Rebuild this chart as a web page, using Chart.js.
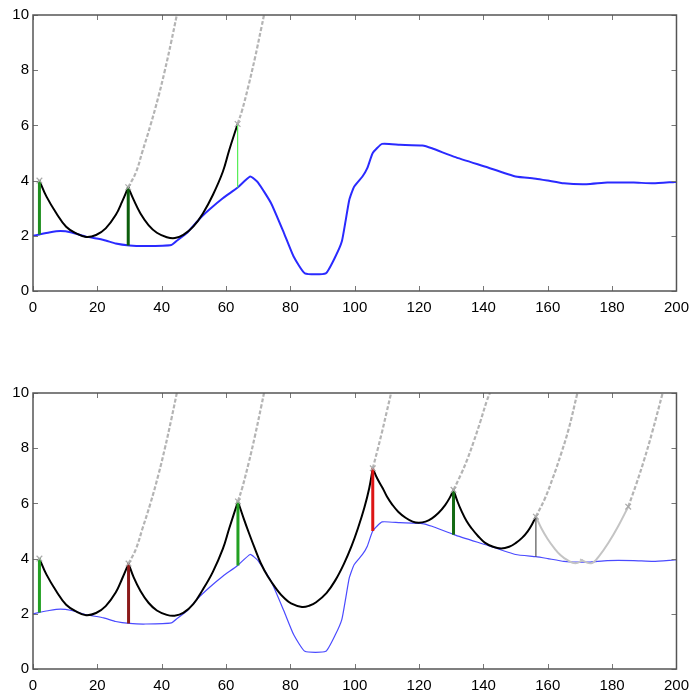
<!DOCTYPE html>
<html>
<head>
<meta charset="utf-8">
<script src="https://cdn.jsdelivr.net/npm/chart.js@4.4.0/dist/chart.umd.min.js"></script>
<style>
  html, body { margin: 0; padding: 0; background: #ffffff; }
  #wrap { position: relative; width: 697px; height: 695px; overflow: hidden; }
  canvas { position: absolute; left: 0; }
  #c1 { top: 0; }
  #c2 { top: 330px; }
</style>
</head>
<body>
<div id="wrap">
  <canvas id="c1" width="697" height="330"></canvas>
  <canvas id="c2" width="697" height="365"></canvas>
</div>
<script>
// ---------- tick labels ----------
const xTicks = [0, 20, 40, 60, 80, 100, 120, 140, 160, 180, 200];
const yTicks = [0, 2, 4, 6, 8, 10];

// ---------- blue signal (same in both panels) ----------
const signalX = [0, 2, 5, 8.5, 12, 16.5, 22, 25.7, 30, 35, 43, 45, 48, 51.8, 55, 59, 63.6, 67.5, 70, 74, 78, 81, 84.5, 91, 94, 96, 97.2, 98.3, 99.8, 102.4, 103.9, 105.6, 108.5, 114, 121, 124, 131, 140.7, 150, 156.3, 160, 165, 172, 178.5, 186.7, 192.8, 199.5, 200];
const signalY = [2.0, 2.05, 2.12, 2.17, 2.12, 1.97, 1.85, 1.72, 1.65, 1.63, 1.67, 1.85, 2.12, 2.62, 2.97, 3.36, 3.75, 4.15, 3.92, 3.18, 2.1, 1.25, 0.64, 0.64, 1.25, 1.8, 2.57, 3.3, 3.78, 4.15, 4.45, 5.0, 5.33, 5.3, 5.27, 5.17, 4.86, 4.5, 4.15, 4.07, 4.0, 3.9, 3.87, 3.93, 3.93, 3.9, 3.95, 3.95];

// ---------- top panel ----------
const topArcAX = [2, 4.2, 7.3, 10.3, 13.4, 16.5, 19.6, 22.6, 25.7, 27.7, 29.6];
const topArcAY = [4.0, 3.42, 2.81, 2.33, 2.09, 1.96, 2.03, 2.27, 2.75, 3.24, 3.76];
const topArcBX = [29.6, 31.3, 33.4, 35.9, 38.5, 41.6, 44.1, 46.7, 49.8, 52.8, 55.9, 59, 61, 63.6];
const topArcBY = [3.76, 3.30, 2.81, 2.39, 2.11, 1.95, 1.92, 2.03, 2.33, 2.81, 3.48, 4.32, 5.11, 6.05];
const topDashAX = [29.6, 32, 34, 36.5, 39, 41, 43, 44.7];
const topDashAY = [3.76, 4.3, 5.05, 6.0, 7.05, 8.0, 9.05, 10];
const topDashBX = [63.6, 65, 67, 69, 71, 71.8];
const topDashBY = [6.05, 6.55, 7.45, 8.45, 9.55, 10];
const topPeakX = [2, 29.6, 63.6];
const topPeakY = [4.0, 3.76, 6.05];
const topStemLow = [2.05, 1.65, 3.75];

// ---------- bottom panel ----------
const botArc1X = [2, 4.2, 7.3, 10.3, 13.4, 16.5, 19.6, 22.6, 25.7, 27.7, 29.7];
const botArc1Y = [4.0, 3.42, 2.81, 2.33, 2.09, 1.95, 2.03, 2.28, 2.77, 3.27, 3.82];
const botArc2X = [29.7, 31.3, 33.4, 35.9, 38.5, 41.6, 44, 46.7, 49.8, 52.8, 55.9, 59, 61, 63.7];
const botArc2Y = [3.82, 3.32, 2.83, 2.4, 2.12, 1.96, 1.93, 2.03, 2.35, 2.88, 3.52, 4.35, 5.1, 6.07];
const botArc3X = [63.7, 65.5, 67.2, 69, 70.8, 73, 75.9, 78, 80.2, 83.6, 86, 88, 91.2, 94, 96.6, 99, 101, 103, 104.5, 105.6];
const botArc3Y = [6.07, 5.45, 4.9, 4.35, 3.83, 3.35, 2.86, 2.58, 2.38, 2.25, 2.3, 2.42, 2.75, 3.22, 3.8, 4.45, 5.1, 5.85, 6.55, 7.27];
const botArc4X = [105.6, 107, 108.7, 110, 111.7, 113.5, 115.8, 118, 119.9, 122, 124, 126, 128.1, 129.5, 130.7];
const botArc4Y = [7.27, 6.9, 6.55, 6.25, 5.95, 5.7, 5.48, 5.34, 5.30, 5.34, 5.46, 5.65, 5.94, 6.2, 6.49];
const botArc5X = [130.7, 132, 133.2, 134.8, 136.3, 138.3, 140.4, 143, 145.5, 148, 150.1, 152, 153.7, 155, 156.3];
const botArc5Y = [6.49, 6.05, 5.72, 5.35, 5.1, 4.82, 4.58, 4.43, 4.37, 4.43, 4.57, 4.75, 4.98, 5.22, 5.52];
const botGray1X = [156.3, 158, 160, 162, 164, 166, 168.6, 171];
const botGray1Y = [5.52, 5.1, 4.7, 4.38, 4.12, 3.95, 3.83, 3.95];
const botGray2X = [170, 173.5, 176, 179, 182, 185];
const botGray2Y = [3.97, 3.83, 4.1, 4.6, 5.2, 5.88];
const botDash1X = [29.7, 32, 34, 36.5, 39, 41, 43, 44.7];
const botDash1Y = [3.82, 4.35, 5.08, 6.0, 7.05, 8.0, 9.05, 10];
const botDash2X = [63.7, 65, 67, 69, 71, 71.8];
const botDash2Y = [6.07, 6.55, 7.45, 8.45, 9.55, 10];
const botDash3X = [105.6, 107, 108.5, 110, 111.3];
const botDash3Y = [7.27, 7.9, 8.6, 9.35, 10];
const botDash4X = [130.7, 133, 135, 137, 139, 141, 142];
const botDash4Y = [6.49, 7.05, 7.6, 8.25, 8.95, 9.7, 10];
const botDash5X = [156.3, 159, 161.5, 164, 166.5, 169.2];
const botDash5Y = [5.52, 6.15, 6.9, 7.75, 8.7, 10];
const botDash6X = [185, 187.5, 190, 192.5, 195.7];
const botDash6Y = [5.88, 6.7, 7.6, 8.6, 10];
const botPeakX = [2, 29.7, 63.7, 105.6, 130.7, 156.3, 185];
const botPeakY = [4.0, 3.82, 6.07, 7.27, 6.49, 5.52, 5.88];
const botStemLow = [2.05, 1.65, 3.75, 5.0, 4.86, 4.07];

// ---------- styles ----------
const topStemColors = ['#1f8f1f', '#0b5e0b', '#55ee55'];
const topStemWidths = [3, 3, 1.2];
const botStemColors = ['#22a022', '#8b1a1a', '#22a022', '#dd1515', '#146a14', '#555555'];
const botStemWidths = [3, 3, 3, 3, 3, 1.2];

function pts(xs, ys) { return xs.map((x, i) => ({ x: x, y: ys[i] })); }

function curve(xs, ys, color, width, order, tension) {
  return { data: pts(xs, ys), borderColor: color, borderWidth: width, pointRadius: 0,
    tension: tension, fill: false, order: order };
}
function dashed(xs, ys) {
  return { data: pts(xs, ys), borderColor: '#b4b4b4', borderWidth: 2.2, borderDash: [4, 2],
    pointRadius: 0, tension: 0.4, fill: false, order: 9 };
}
function stem(x, y0, y1, color, width) {
  return { data: [{ x: x, y: y0 }, { x: x, y: y1 }], borderColor: color, borderWidth: width,
    pointRadius: 0, tension: 0, fill: false, order: 1 };
}
function peaks(xs, ys) {
  return { data: pts(xs, ys), showLine: false, pointStyle: 'crossRot', pointRadius: 4,
    pointBorderColor: '#aaaaaa', pointBorderWidth: 1.2, borderColor: '#aaaaaa', order: 0 };
}

const boxPlugin = {
  id: 'box',
  afterDraw(chart) {
    const ctx = chart.ctx, a = chart.chartArea;
    const xs = chart.scales.x, ys = chart.scales.y;
    ctx.save();
    ctx.strokeStyle = '#777777';
    ctx.lineWidth = 1;
    const L = 5;
    ctx.beginPath();
    xTicks.forEach(v => {
      const p = Math.round(xs.getPixelForValue(v)) + 0.5;
      ctx.moveTo(p, a.bottom); ctx.lineTo(p, a.bottom - L);
      ctx.moveTo(p, a.top); ctx.lineTo(p, a.top + L);
    });
    yTicks.forEach(v => {
      const p = Math.round(ys.getPixelForValue(v)) + 0.5;
      ctx.moveTo(a.left, p); ctx.lineTo(a.left + L, p);
      ctx.moveTo(a.right, p); ctx.lineTo(a.right - L, p);
    });
    ctx.stroke();
    ctx.strokeStyle = '#555555';
    ctx.lineWidth = 1.5;
    ctx.strokeRect(a.left, a.top, a.right - a.left, a.bottom - a.top);
    ctx.restore();
  }
};

const tickFont = { family: "'Liberation Sans Narrow', 'Liberation Sans', Arial, sans-serif", size: 15 };

function makeOptions(padTop, xHeight) {
  return {
    responsive: false,
    animation: false,
    events: [],
    layout: { padding: { left: 0, right: 13, top: padTop, bottom: 0 } },
    plugins: { legend: { display: false }, tooltip: { enabled: false } },
    scales: {
      x: {
        type: 'linear', min: 0, max: 200,
        grid: { display: false, drawTicks: false },
        border: { display: false },
        afterBuildTicks: s => { s.ticks = xTicks.map(v => ({ value: v })); },
        afterFit: s => { s.height = xHeight; },
        ticks: { color: '#000000', font: tickFont, padding: 8, maxRotation: 0, autoSkip: false }
      },
      y: {
        type: 'linear', min: 0, max: 10,
        grid: { display: false, drawTicks: false },
        border: { display: false },
        afterBuildTicks: s => { s.ticks = yTicks.map(v => ({ value: v })); },
        afterFit: s => { s.width = 33; },
        ticks: { color: '#000000', font: tickFont, padding: 4 }
      }
    }
  };
}

// top panel datasets
const topSets = [
  curve(signalX, signalY, '#2a2aff', 2, 8, 0.15),
  curve(topArcAX, topArcAY, '#000000', 2, 5, 0.4),
  curve(topArcBX, topArcBY, '#000000', 2, 5, 0.4),
  dashed(topDashAX, topDashAY),
  dashed(topDashBX, topDashBY),
  peaks(topPeakX, topPeakY)
];
topPeakX.forEach((x, i) => topSets.push(stem(x, topStemLow[i], topPeakY[i], topStemColors[i], topStemWidths[i])));

new Chart(document.getElementById('c1'), {
  type: 'line',
  data: { datasets: topSets },
  options: makeOptions(15, 39),
  plugins: [boxPlugin]
});

// bottom panel datasets
const botSets = [
  curve(signalX, signalY, '#4a4aff', 1.2, 8, 0.15),
  curve(botArc1X, botArc1Y, '#000000', 2, 5, 0.4),
  curve(botArc2X, botArc2Y, '#000000', 2, 5, 0.4),
  curve(botArc3X, botArc3Y, '#000000', 2, 5, 0.4),
  curve(botArc4X, botArc4Y, '#000000', 2, 5, 0.4),
  curve(botArc5X, botArc5Y, '#000000', 2, 5, 0.4),
  curve(botGray1X, botGray1Y, '#c4c4c4', 2, 7, 0.4),
  curve(botGray2X, botGray2Y, '#c4c4c4', 2, 7, 0.4),
  dashed(botDash1X, botDash1Y),
  dashed(botDash2X, botDash2Y),
  dashed(botDash3X, botDash3Y),
  dashed(botDash4X, botDash4Y),
  dashed(botDash5X, botDash5Y),
  dashed(botDash6X, botDash6Y),
  peaks(botPeakX, botPeakY)
];
botStemLow.forEach((lo, i) => botSets.push(stem(botPeakX[i], lo, botPeakY[i], botStemColors[i], botStemWidths[i])));

new Chart(document.getElementById('c2'), {
  type: 'line',
  data: { datasets: botSets },
  options: makeOptions(63, 26),
  plugins: [boxPlugin]
});
</script>
</body>
</html>
